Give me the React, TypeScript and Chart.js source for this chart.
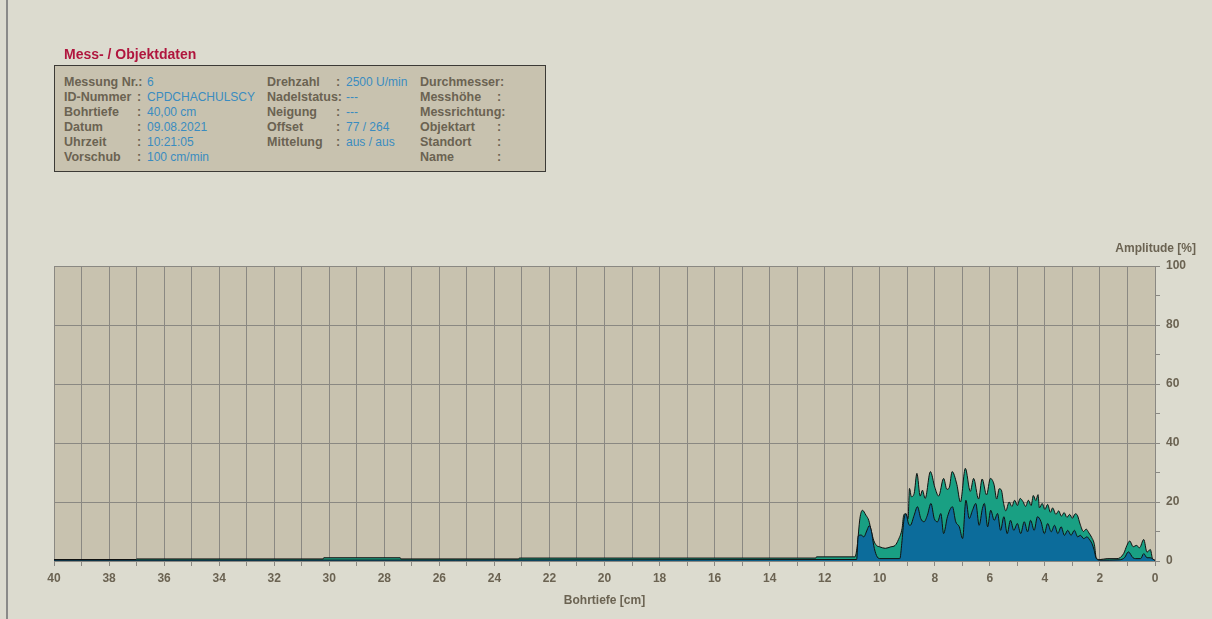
import React, { useEffect, useRef } from "react";
import { Chart, registerables } from "chart.js";

Chart.register(...registerables);

// ---- data (depth in cm, amplitude in %) ----
const tealDepth = [
  0.0, 0.09, 0.17, 0.29, 0.41, 0.56, 0.68, 0.79, 0.92, 1.02, 1.14, 1.38, 1.74, 1.99, 2.13,
  2.2, 2.3, 2.4, 2.5, 2.6, 2.72, 2.82, 2.9, 3.0, 3.1, 3.2, 3.3, 3.4, 3.5, 3.6, 3.72, 3.8, 3.9,
  4.0, 4.1, 4.2, 4.25, 4.33, 4.42, 4.5, 4.6, 4.7, 4.8, 4.9, 5.0, 5.1, 5.2, 5.3, 5.42, 5.5,
  5.58, 5.66, 5.75, 5.85, 5.98, 6.12, 6.28, 6.41, 6.59, 6.71, 6.89, 7.07, 7.2, 7.37, 7.47,
  7.56, 7.68, 7.86, 8.0, 8.16, 8.35, 8.45, 8.53, 8.65, 8.75, 8.85, 8.92, 8.97, 9.07, 9.13,
  9.19, 9.32, 9.44, 9.6, 9.8, 10.0, 10.12, 10.22, 10.3, 10.4, 10.5, 10.63, 10.72, 10.82, 10.9,
  12.3, 12.32, 23.1, 23.12, 27.4, 27.42, 30.2, 30.22, 37.0, 37.02, 40.0,
];
const tealValue = [
  0.2, 0.8, 3.9, 3.0, 7.3, 4.5, 5.3, 4.8, 6.8, 5.3, 2.5, 0.8, 0.8, 0.5, 0.8,
  5.5, 8.0, 9.5, 10.8, 10.0, 12.5, 15.5, 16.0, 14.5, 15.8, 14.8, 16.4, 15.2, 17.0, 15.8, 18.0, 16.5, 19.2,
  17.5, 19.5, 18.0, 22.5, 20.5, 22.2, 18.8, 20.6, 18.5, 20.2, 21.2, 18.8, 20.6, 18.5, 20.0, 17.0, 19.5,
  24.0, 24.5, 21.0, 26.0, 28.0, 22.4, 27.8, 21.0, 28.0, 23.6, 31.4, 20.0, 26.0, 30.3, 25.0,
  24.3, 28.0, 22.0, 25.0, 30.3, 21.2, 24.0, 22.0, 29.7, 22.9, 21.8, 24.6, 14.4, 16.0, 15.5,
  11.0, 7.3, 5.3, 4.8, 4.3, 4.8, 5.3, 7.0, 9.9, 13.8, 15.5, 17.2, 14.5, 5.0, 1.4,
  1.4, 1.0, 1.0, 0.7, 0.7, 1.1, 1.1, 0.7, 0.7, 0.5, 0.5,
];
const blueDepth = [
  0.0, 0.1, 0.17, 0.29, 0.41, 0.52, 0.7, 0.8, 0.97, 1.1, 1.3, 2.0, 2.13, 2.22, 2.29, 2.4,
  2.47, 2.59, 2.71, 2.81, 2.93, 3.05, 3.17, 3.29, 3.41, 3.53, 3.65, 3.77, 3.9, 4.02, 4.14,
  4.27, 4.39, 4.52, 4.63, 4.75, 4.88, 5.0, 5.13, 5.25, 5.37, 5.49, 5.61, 5.72, 5.84, 5.97,
  6.08, 6.2, 6.27, 6.39, 6.51, 6.63, 6.75, 6.87, 6.99, 7.11, 7.24, 7.36, 7.54, 7.68, 7.78,
  7.9, 8.02, 8.14, 8.27, 8.39, 8.51, 8.63, 8.75, 8.89, 8.95, 9.05, 9.12, 9.2, 9.27, 10.0,
  10.12, 10.22, 10.3, 10.38, 10.46, 10.58, 10.68, 10.78, 10.84, 40.0,
];
const blueValue = [
  0.2, 0.8, 1.1, 1.1, 2.5, 0.8, 0.8, 1.1, 3.1, 1.2, 0.4, 0.3, 0.8, 4.0, 5.9, 7.5,
  8.2, 7.6, 8.7, 8.2, 10.4, 8.7, 10.4, 8.7, 11.6, 9.3, 12.1, 9.9, 12.7, 9.3, 13.3,
  15.0, 10.4, 13.8, 9.9, 13.3, 9.3, 12.7, 10.4, 13.8, 9.3, 15.0, 10.4, 16.1, 13.8, 17.2,
  11.6, 19.5, 17.8, 12.1, 19.5, 17.2, 14.4, 20.6, 7.6, 11.6, 13.3, 18.4, 15.0, 9.3, 16.1,
  13.3, 14.4, 19.5, 15.5, 13.3, 14.4, 18.4, 15.5, 12.1, 12.5, 16.1, 14.0, 6.0, 0.8, 0.8,
  1.9, 5.3, 10.0, 12.0, 10.5, 8.2, 8.8, 8.5, 0.5, 0.3,
];

const xTickLabels = ["0", "2", "4", "6", "8", "10", "12", "14", "16", "18", "20", "22", "24", "26", "28", "30", "32", "34", "36", "38", "40"];
const yTickLabels = ["0", "20", "40", "60", "80", "100"];

const infoCol1Labels = ["Messung Nr.:", "ID-Nummer", "Bohrtiefe", "Datum", "Uhrzeit", "Vorschub"];
const infoCol1Values = ["6", "CPDCHACHULSCY", "40,00 cm", "09.08.2021", "10:21:05", "100 cm/min"];
const infoCol2Labels = ["Drehzahl", "Nadelstatus:", "Neigung", "Offset", "Mittelung"];
const infoCol2Values = ["2500 U/min", "---", "---", "77 / 264", "aus / aus"];
const infoCol3Labels = ["Durchmesser:", "Messhöhe", "Messrichtung:", "Objektart", "Standort", "Name"];

// ---- styles ----
const PAGE_BG = "#dcdbcf";
const PLOT_BG = "#c8c2af";
const GRID = "#8a8882";
const LABEL = "#6b6352";
const VALUE = "#3a8cc0";
const TITLE = "#b0163e";
const TEAL = "#19a083";
const BLUE = "#0c6c9b";
const FONT = "'Liberation Sans', Arial, sans-serif";

const plotBg = {
  id: "plotBg",
  beforeDraw(chart: any) {
    const { ctx, chartArea } = chart;
    ctx.save();
    ctx.fillStyle = PLOT_BG;
    ctx.fillRect(chartArea.left, chartArea.top, chartArea.right - chartArea.left, chartArea.bottom - chartArea.top);
    ctx.restore();
  },
};

export default function App() {
  const ref = useRef<HTMLCanvasElement | null>(null);

  useEffect(() => {
    if (!ref.current) return;
    const teal = tealDepth.map((d, i) => ({ x: d, y: tealValue[i] }));
    const blue = blueDepth.map((d, i) => ({ x: d, y: blueValue[i] }));
    const tickFont = { family: FONT, size: 12, weight: "bold" as const };
    const chart = new Chart(ref.current, {
      type: "line",
      data: {
        datasets: [
          {
            data: blue,
            order: 0,
            borderColor: "#111",
            borderWidth: 1,
            backgroundColor: BLUE,
            fill: "origin",
            pointRadius: 0,
            cubicInterpolationMode: "monotone",
          },
          {
            data: teal,
            order: 1,
            borderColor: "#111",
            borderWidth: 1,
            backgroundColor: TEAL,
            fill: "origin",
            pointRadius: 0,
            cubicInterpolationMode: "monotone",
          },
        ],
      },
      options: {
        animation: false,
        responsive: false,
        parsing: false as any,
        layout: { padding: { left: 54, top: 266, right: 0, bottom: 0 } },
        plugins: { legend: { display: false }, tooltip: { enabled: false } },
        scales: {
          x: {
            type: "linear",
            reverse: true,
            min: 0,
            max: 40,
            afterFit: (s: any) => { s.height = 58; },
            ticks: {
              stepSize: 1,
              autoSkip: false,
              maxRotation: 0,
              padding: 5,
              color: LABEL,
              font: tickFont,
              callback: (v: any) => (xTickLabels.includes(String(v)) ? String(v) : ""),
            },
            grid: { color: GRID, tickColor: GRID, tickLength: 5, lineWidth: 1 },
            border: { color: GRID },
            title: {
              display: true,
              text: "Bohrtiefe [cm]",
              color: LABEL,
              font: tickFont,
              padding: { top: 4, bottom: 11 },
            },
          },
          y: {
            type: "linear",
            position: "right",
            min: 0,
            max: 100,
            afterFit: (s: any) => { s.width = 57; },
            ticks: {
              stepSize: 10,
              autoSkip: false,
              padding: 6,
              color: LABEL,
              font: tickFont,
              callback: (v: any) => (yTickLabels.includes(String(v)) ? String(v) : ""),
            },
            grid: {
              color: (c: any) => (c.tick && c.tick.value % 20 === 0 ? GRID : "rgba(0,0,0,0)"),
              tickColor: GRID,
              tickLength: 5,
              lineWidth: 1,
            },
            border: { color: GRID },
          },
        },
      },
      plugins: [plotBg],
    });
    return () => chart.destroy();
  }, []);

  const rowTop = (i: number) => 75 + i * 15;
  const lab: React.CSSProperties = { position: "absolute", fontFamily: FONT, fontSize: 12.5, fontWeight: "bold", color: LABEL, lineHeight: "14px", whiteSpace: "nowrap" };
  const val: React.CSSProperties = { position: "absolute", fontFamily: FONT, fontSize: 12, color: VALUE, lineHeight: "14px", whiteSpace: "nowrap" };

  return (
    <div style={{ position: "fixed", left: 0, top: 0, width: 1212, height: 619, background: PAGE_BG, overflow: "hidden" }}>
      <div style={{ position: "absolute", left: 6, top: 0, width: 2, height: 619, background: "#8a8a88" }} />
      <canvas ref={ref} width={1212} height={619} style={{ position: "absolute", left: 0, top: 0, width: 1212, height: 619 }} />
      <div style={{ position: "absolute", left: 64, top: 46, fontFamily: FONT, fontSize: 14, fontWeight: "bold", color: TITLE, whiteSpace: "nowrap", lineHeight: "17px" }}>
        Mess- / Objektdaten
      </div>
      <div style={{ position: "absolute", left: 54, top: 65, width: 490, height: 105, background: PLOT_BG, border: "1px solid #3c3a36" }} />
      {infoCol1Labels.map((t, i) => (
        <React.Fragment key={"c1" + i}>
          <span style={{ ...lab, left: 64, top: rowTop(i) }}>{t}</span>
          {i > 0 && <span style={{ ...lab, left: 137, top: rowTop(i) }}>:</span>}
          <span style={{ ...val, left: 147, top: rowTop(i) }}>{infoCol1Values[i]}</span>
        </React.Fragment>
      ))}
      {infoCol2Labels.map((t, i) => (
        <React.Fragment key={"c2" + i}>
          <span style={{ ...lab, left: 267, top: rowTop(i) }}>{t}</span>
          {!t.endsWith(":") && <span style={{ ...lab, left: 336, top: rowTop(i) }}>:</span>}
          <span style={{ ...val, left: 346, top: rowTop(i) }}>{infoCol2Values[i]}</span>
        </React.Fragment>
      ))}
      {infoCol3Labels.map((t, i) => (
        <React.Fragment key={"c3" + i}>
          <span style={{ ...lab, left: 420, top: rowTop(i) }}>{t}</span>
          {!t.endsWith(":") && <span style={{ ...lab, left: 497, top: rowTop(i) }}>:</span>}
        </React.Fragment>
      ))}
      <div style={{ position: "absolute", right: 1212 - 1196, top: 241, fontFamily: FONT, fontSize: 12, fontWeight: "bold", color: LABEL, whiteSpace: "nowrap", lineHeight: "14px" }}>
        Amplitude [%]
      </div>
    </div>
  );
}
